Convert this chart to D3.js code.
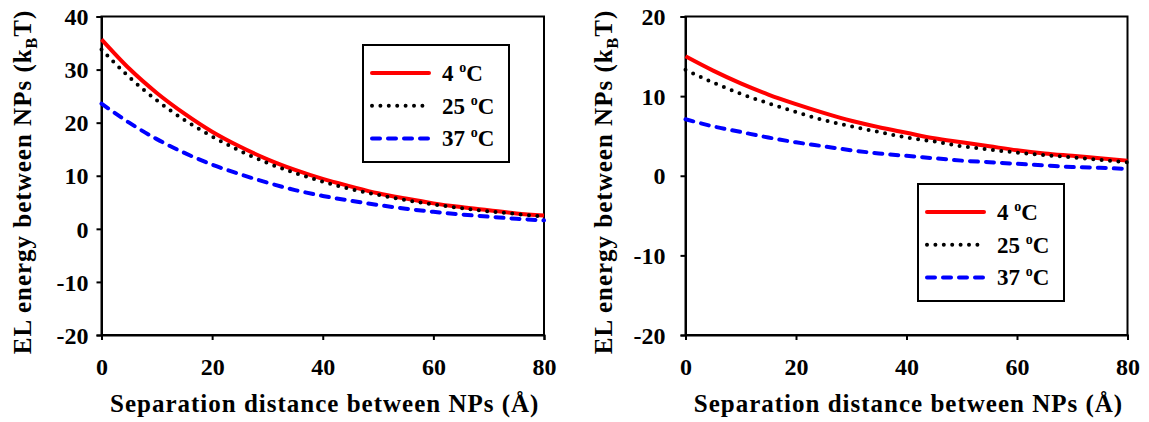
<!DOCTYPE html>
<html>
<head>
<meta charset="utf-8">
<script src="https://cdn.jsdelivr.net/npm/d3@7"></script>
<style>
  body { margin: 0; background: #fff; }
  svg { display: block; }
  svg text { font-family: "Liberation Serif", "Times New Roman", serif; font-weight: 700; }
</style>
</head>
<body>
<svg id="chart" width="1149" height="422"></svg>
<script>
// separation distance (Å)
const distance = [0, 5, 10, 15, 20, 25, 30, 35, 40, 45, 50, 55, 60, 65, 70, 75, 80];

// left panel, EL energy (kBT)
const left4C  = [35.7, 30.2, 25.6, 21.7, 18.3, 15.5, 13.1, 11.1, 9.4, 8.0, 6.7, 5.7, 4.8, 4.1, 3.5, 2.9, 2.5];
const left25C = [33.8, 28.6, 24.2, 20.5, 17.4, 14.7, 12.4, 10.5, 8.9, 7.5, 6.4, 5.4, 4.6, 3.9, 3.3, 2.8, 2.3];
const left37C = [23.6, 20.0, 16.9, 14.3, 12.1, 10.3, 8.7, 7.3, 6.2, 5.3, 4.5, 3.8, 3.2, 2.7, 2.3, 1.9, 1.6];

// right panel
const right4C  = [15.0, 13.2, 11.6, 10.2, 9.0, 7.9, 6.9, 6.1, 5.4, 4.7, 4.2, 3.7, 3.2, 2.8, 2.5, 2.2, 1.9];
const right25C = [13.3, 11.7, 10.3, 9.1, 8.0, 7.0, 6.2, 5.5, 4.8, 4.3, 3.7, 3.3, 2.9, 2.6, 2.3, 2.0, 1.7];
const right37C = [7.1, 6.2, 5.5, 4.8, 4.2, 3.7, 3.2, 2.8, 2.5, 2.2, 1.9, 1.7, 1.5, 1.3, 1.1, 1.0, 0.86];

const tempLabels = ["4", "25", "37"];
const xTicks = [0, 20, 40, 60, 80];
const leftYTicks = [-20, -10, 0, 10, 20, 30, 40];
const rightYTicks = [-20, -10, 0, 10, 20];

const styles = [
  { stroke: "#ff0000", dash: null, cap: "butt" },
  { stroke: "#000000", dash: "0 8.4", cap: "round" },
  { stroke: "#0000ff", dash: "8 8", cap: "round" }
];

const svg = d3.select("#chart");

function drawPanel(p) {
  const x = d3.scaleLinear().domain([0, 80]).range([p.x0, p.x1]);
  const y = d3.scaleLinear().domain([p.yTicks[0], p.yTicks[p.yTicks.length - 1]]).range([p.y1, p.y0]);
  const g = svg.append("g");

  // frame
  g.append("rect")
    .attr("x", p.x0).attr("y", p.y0)
    .attr("width", p.x1 - p.x0).attr("height", p.y1 - p.y0)
    .attr("fill", "none").attr("stroke", "#000").attr("stroke-width", 2);

  const xAxis = g.append("g")
    .attr("transform", "translate(0," + p.y1 + ")")
    .call(d3.axisBottom(x).tickValues(xTicks).tickSize(5).tickPadding(17).tickFormat(d => String(d)));
  const yAxis = g.append("g")
    .attr("transform", "translate(" + p.x0 + ",0)")
    .call(d3.axisLeft(y).tickValues(p.yTicks).tickSize(5).tickPadding(p.yPad).tickFormat(d => String(d)));
  [xAxis, yAxis].forEach(a => {
    a.attr("font-family", null).attr("font-size", 24);
    a.select(".domain").attr("stroke-width", 2);
    a.selectAll(".tick line").attr("stroke-width", 2);
    a.selectAll("text").attr("fill", "#000");
  });
  xAxis.selectAll("text").attr("dy", null).attr("y", 40);
  yAxis.selectAll("text").attr("dy", "0.34em");

  // curves
  const line = d3.line().curve(d3.curveMonotoneX)
    .x((d, i) => x(distance[i]))
    .y(d => y(d));
  p.series.forEach((s, k) => {
    g.append("path")
      .datum(s)
      .attr("d", line)
      .attr("fill", "none")
      .attr("stroke", styles[k].stroke)
      .attr("stroke-width", 4)
      .attr("stroke-linecap", styles[k].cap)
      .attr("stroke-dasharray", styles[k].dash);
  });

  // axis titles
  g.append("text")
    .attr("x", (p.x0 + p.x1) / 2 + 2).attr("y", 412)
    .attr("text-anchor", "middle").attr("font-size", 25)
    .attr("letter-spacing", 1)
    .text("Separation distance between NPs (Å)");
  const yt = g.append("text")
    .attr("transform", "translate(" + p.yTitleX + "," + 182 + ") rotate(-90)")
    .attr("text-anchor", "middle").attr("font-size", 25)
    .attr("letter-spacing", 1);
  yt.append("tspan").text("EL energy between NPs (k");
  yt.append("tspan").attr("dy", 6).attr("font-size", 16).text("B");
  yt.append("tspan").attr("dy", -6).text("T)");

  // legend
  const L = p.legend;
  g.append("rect")
    .attr("x", L.x).attr("y", L.y).attr("width", 146).attr("height", 117)
    .attr("fill", "#fff").attr("stroke", "#000").attr("stroke-width", 2);
  tempLabels.forEach((t, k) => {
    const cy = L.y + 28 + k * 32.7;
    g.append("line")
      .attr("x1", L.x + 9).attr("x2", L.x + 66)
      .attr("y1", cy).attr("y2", cy)
      .attr("stroke", styles[k].stroke).attr("stroke-width", 4)
      .attr("stroke-linecap", k === 0 ? "round" : styles[k].cap)
      .attr("stroke-dasharray", styles[k].dash);
    const tx = g.append("text")
      .attr("x", L.x + 79).attr("y", cy + 8)
      .attr("font-size", 23);
    tx.append("tspan").text(t + " ");
    tx.append("tspan").attr("dy", -9).attr("font-size", 14).text("o");
    tx.append("tspan").attr("dy", 9).text("C");
  });
}

drawPanel({
  x0: 101.5, x1: 544, y0: 16.5, y1: 335,
  yTicks: leftYTicks, yPad: 8, yTitleX: 31,
  series: [left4C, left25C, left37C],
  legend: { x: 363, y: 45 }
});

drawPanel({
  x0: 685.5, x1: 1127.5, y0: 16.5, y1: 335,
  yTicks: rightYTicks, yPad: 15, yTitleX: 612,
  series: [right4C, right25C, right37C],
  legend: { x: 918, y: 184 }
});
</script>
</body>
</html>
